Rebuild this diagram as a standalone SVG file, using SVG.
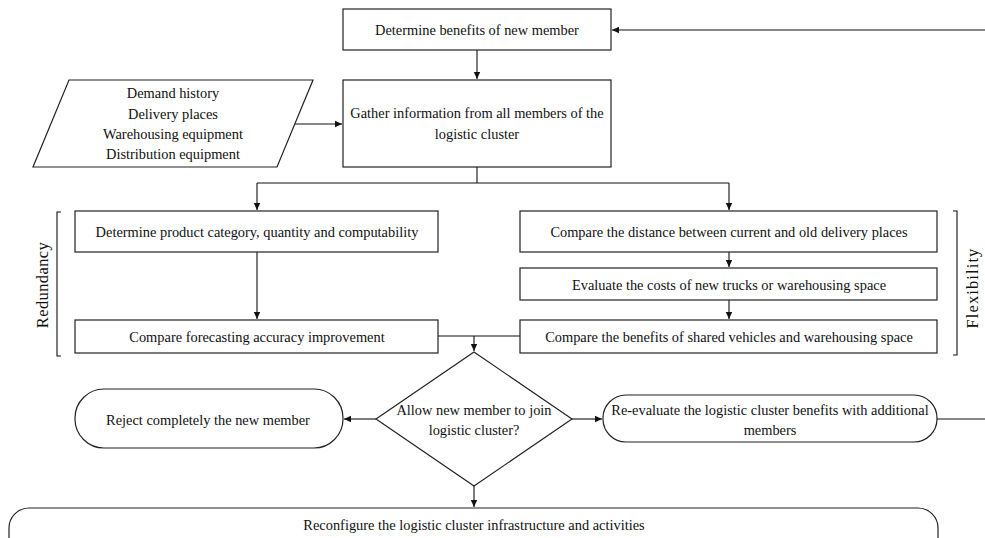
<svg xmlns="http://www.w3.org/2000/svg" width="985" height="538" viewBox="0 0 985 538">
  <style>
    .box { fill: #fff; stroke: #222; stroke-width: 1.2; }
    .wire { fill: none; stroke: #111; stroke-width: 1.1; }
    .t { font-family: "Liberation Serif", "Times New Roman", serif; font-size: 14.4px; fill: #111; text-anchor: middle; dominant-baseline: central; }
    .side { font-family: "Liberation Serif", "Times New Roman", serif; font-size: 16.5px; fill: #111; text-anchor: middle; dominant-baseline: central; }
  </style>
  <defs>
    <marker id="arr" markerWidth="8" markerHeight="8" refX="7" refY="4" orient="auto" markerUnits="userSpaceOnUse">
      <path d="M0,0.8 L7,4 L0,7.2 Z" fill="#111"/>
    </marker>
  </defs>
  <rect width="985" height="538" fill="#fff"/>

  <g id="connectors">
    <path class="wire" d="M985,30 L612,30" marker-end="url(#arr)"/>
    <path class="wire" d="M477,50 L477,79" marker-end="url(#arr)"/>
    <path class="wire" d="M295,124 L342,124" marker-end="url(#arr)"/>
    <path class="wire" d="M477,167 L477,183"/>
    <path class="wire" d="M257,183 L729,183"/>
    <path class="wire" d="M257,183 L257,210" marker-end="url(#arr)"/>
    <path class="wire" d="M729,183 L729,210" marker-end="url(#arr)"/>
    <path class="wire" d="M257,252 L257,319" marker-end="url(#arr)"/>
    <path class="wire" d="M729,252 L729,267" marker-end="url(#arr)"/>
    <path class="wire" d="M729,300 L729,319" marker-end="url(#arr)"/>
    <path class="wire" d="M438,336 L520,336"/>
    <path class="wire" d="M474,336 L474,351" marker-end="url(#arr)"/>
    <path class="wire" d="M376,419 L344,419" marker-end="url(#arr)"/>
    <path class="wire" d="M572,419 L602,419" marker-end="url(#arr)"/>
    <path class="wire" d="M937,419 L985,419"/>
    <path class="wire" d="M474,486 L474,507" marker-end="url(#arr)"/>
  </g>

  <g id="determine-benefits">
    <rect class="box" x="343" y="9" width="268" height="41"/>
    <text class="t" x="477" y="30">Determine benefits of new member</text>
  </g>

  <g id="data-input">
    <polygon class="box" points="69,80 313,80 277,167 33,167"/>
    <text class="t" x="173" y="93">Demand history</text>
    <text class="t" x="173" y="114">Delivery places</text>
    <text class="t" x="173" y="134">Warehousing equipment</text>
    <text class="t" x="173" y="154">Distribution equipment</text>
  </g>

  <g id="gather-information">
    <rect class="box" x="343" y="80" width="268" height="87"/>
    <text class="t" x="477" y="113">Gather information from all members of the</text>
    <text class="t" x="477" y="134">logistic cluster</text>
  </g>

  <g id="redundancy">
    <path class="wire" d="M61,212 L57,212 L57,356 L61,356"/>
    <text class="side" x="42" y="285" letter-spacing="0.4" transform="rotate(-90 42 285)">Redundancy</text>
  </g>

  <g id="product-category">
    <rect class="box" x="75" y="211" width="363" height="41"/>
    <text class="t" x="257" y="232">Determine product category, quantity and computability</text>
  </g>

  <g id="forecasting-accuracy">
    <rect class="box" x="75" y="320" width="363" height="33"/>
    <text class="t" x="257" y="337">Compare forecasting accuracy improvement</text>
  </g>

  <g id="flexibility">
    <path class="wire" d="M953,211 L957,211 L957,355 L953,355"/>
    <text class="side" x="972" y="288" letter-spacing="1.1" transform="rotate(-90 972 288)">Flexibility</text>
  </g>

  <g id="delivery-distance">
    <rect class="box" x="520" y="211" width="417" height="41"/>
    <text class="t" x="729" y="232">Compare the distance between current and old delivery places</text>
  </g>

  <g id="truck-costs">
    <rect class="box" x="520" y="268" width="417" height="32"/>
    <text class="t" x="729" y="285">Evaluate the costs of new trucks or warehousing space</text>
  </g>

  <g id="shared-benefits">
    <rect class="box" x="520" y="320" width="417" height="33"/>
    <text class="t" x="729" y="337">Compare the benefits of shared vehicles and warehousing space</text>
  </g>

  <g id="decision">
    <polygon class="box" points="474,352 572,419 474,486 376,419"/>
    <text class="t" x="474" y="410">Allow new member to join</text>
    <text class="t" x="474" y="430">logistic cluster?</text>
  </g>

  <g id="reject">
    <rect class="box" x="75" y="389" width="268" height="59" rx="29" ry="29"/>
    <text class="t" x="208" y="420">Reject completely the new member</text>
  </g>

  <g id="re-evaluate">
    <rect class="box" x="603" y="395" width="334" height="47" rx="23" ry="23"/>
    <text class="t" x="770" y="410">Re-evaluate the logistic cluster benefits with additional</text>
    <text class="t" x="770" y="430">members</text>
  </g>

  <g id="reconfigure">
    <rect class="box" x="9" y="508" width="929" height="50" rx="20" ry="20"/>
    <text class="t" x="474" y="525">Reconfigure the logistic cluster infrastructure and activities</text>
  </g>
</svg>
